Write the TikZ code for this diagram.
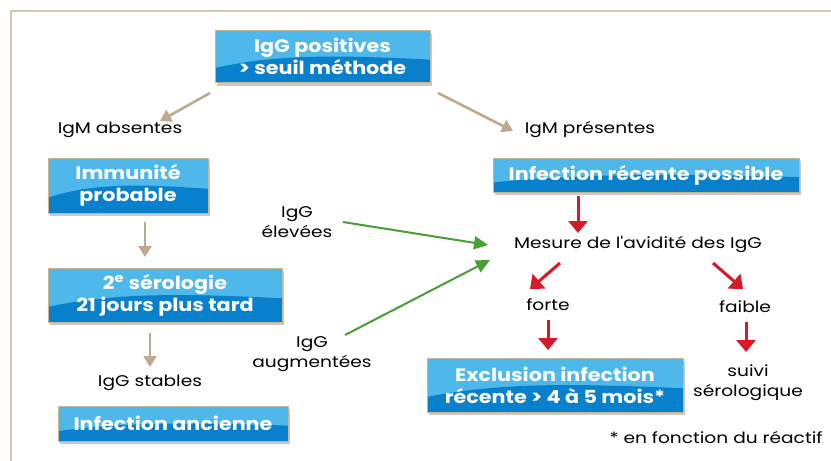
\documentclass[tikz,border=0pt]{standalone}
\usepackage{fontspec}
\newfontfamily\pop{Poppins}[FakeStretch=1.15]
\newfontfamily\popl{Poppins}[FakeStretch=1.2]
\usetikzlibrary{arrows.meta,shadows,calc}
\definecolor{boxlight}{RGB}{78,184,234}
\definecolor{boxdark}{RGB}{8,128,204}
\definecolor{boxedge}{RGB}{200,180,145}
\definecolor{tanarr}{RGB}{190,170,140}
\definecolor{redarr}{RGB}{215,25,40}
\definecolor{greenarr}{RGB}{70,160,50}
\definecolor{framecol}{RGB}{208,198,178}
\tikzset{
  bluebox/.style={draw=boxedge, line width=0.8pt, fill=boxlight, inner sep=0pt,
    align=center, text=white, font=\pop\bfseries\fontsize{18}{22}\selectfont,
    drop shadow={shadow xshift=2pt, shadow yshift=-3pt, opacity=0.35, fill=black!60},
    path picture={
      \fill[boxdark] let \p1=(path picture bounding box.south west),
        \p2=(path picture bounding box.north east), \n1={\x2-\x1}, \n2={\y2-\y1} in
        (\x1,\y1) -- (\x1,{\y1+0.28*\n2}) .. controls ({\x1+0.3*\n1},{\y1+0.56*\n2})
        and ({\x1+0.6*\n1},{\y1+0.52*\n2}) .. (\x2,{\y1+0.44*\n2}) -- (\x2,\y1) -- cycle;
    }},
  lab/.style={align=center, text=black, inner sep=1pt, font=\popl\fontsize{15.5}{20}\selectfont},
  tanarrow/.style={draw=tanarr, line width=2.6pt, -{Triangle[length=11pt, width=13pt]}},
  redarrow/.style={draw=redarr, line width=3pt, -{Triangle[length=12pt, width=19pt]}},
  greenarrow/.style={draw=greenarr, line width=2pt, -{Triangle[length=14pt, width=13pt]}},
}
\begin{document}
\begin{tikzpicture}[x=1pt,y=-1pt]
\useasboundingbox (0,0) rectangle (831,461);
\fill[white] (0,0) rectangle (831,461);
\draw[framecol, line width=2pt] (11,461) -- (11,11) -- (831,11);

% boxes
\node[bluebox, minimum width=215pt, minimum height=52pt] (b1) at (322.5,56.5) {IgG positives\\> seuil méthode};
\node[bluebox, minimum width=160pt, minimum height=55pt] (b2) at (128,185.5) {Immunité\\probable};
\node[bluebox, minimum width=234pt, minimum height=54pt] (b3) at (165,295) {2\textsuperscript{e} sérologie\\21 jours plus tard};
\node[bluebox, minimum width=230pt, minimum height=35pt] (b4) at (173,423.5) {Infection ancienne};
\node[bluebox, minimum width=306pt, minimum height=34pt] (b5) at (646,175) {Infection récente possible};
\node[bluebox, minimum width=256pt, minimum height=54pt] (b6) at (555,385) {Exclusion infection\\récente > 4 à 5 mois*};

% labels
\node[lab] (absent) at (120,130) {IgM absentes};
\node[lab] (present) at (590,130) {IgM présentes};
\node[lab] (elev) at (297,222) {IgG\\élevées};
\node[lab] (augm) at (312,354) {IgG\\augmentées};
\node[lab] (mesure) at (638,244) {Mesure de l'avidité des IgG};
\node[lab] (forte) at (548,305) {forte};
\node[lab] (faible) at (745,307) {faible};
\node[lab] (suivi) at (748,383) {suivi\\sérologique};
\node[lab] (stables) at (150,383) {IgG stables};
\node[lab] (note) at (716,438) {* en fonction du réactif};

% tan arrows
\draw[tanarrow] ([shift={(-112.5,36.5)}]b1.center) -- ([shift={(40,-9)}]absent.center);
\draw[tanarrow] ([shift={(115.5,36.5)}]b1.center) -- ([shift={(-77,1)}]present.center);
\draw[tanarrow] ([shift={(17,36.5)}]b2.center) -- ([shift={(-20,-38)}]b3.center);
\draw[tanarrow] ([shift={(-15,38)}]b3.center) -- ([shift={(0,-16)}]stables.center);

% red arrows
\draw[redarrow] ([shift={(-68,21)}]b5.center) -- ([shift={(-60,-11)}]mesure.center);
\draw[redarrow] ([shift={(-78,19)}]mesure.center) -- ([shift={(-18,-16)}]forte.center);
\draw[redarrow] ([shift={(75,19)}]mesure.center) -- ([shift={(-2,-18)}]faible.center);
\draw[redarrow] ([shift={(0,15)}]forte.center) -- ([shift={(-7,-35)}]b6.center);
\draw[redarrow] ([shift={(1,15)}]faible.center) -- ([shift={(-2,-31)}]suivi.center);

% green arrows
\draw[greenarrow] ([shift={(46,0)}]elev.center) -- ([shift={(-150,1)}]mesure.center);
\draw[greenarrow] ([shift={(33,-19)}]augm.center) -- ([shift={(-148,16)}]mesure.center);
\end{tikzpicture}
\end{document}
